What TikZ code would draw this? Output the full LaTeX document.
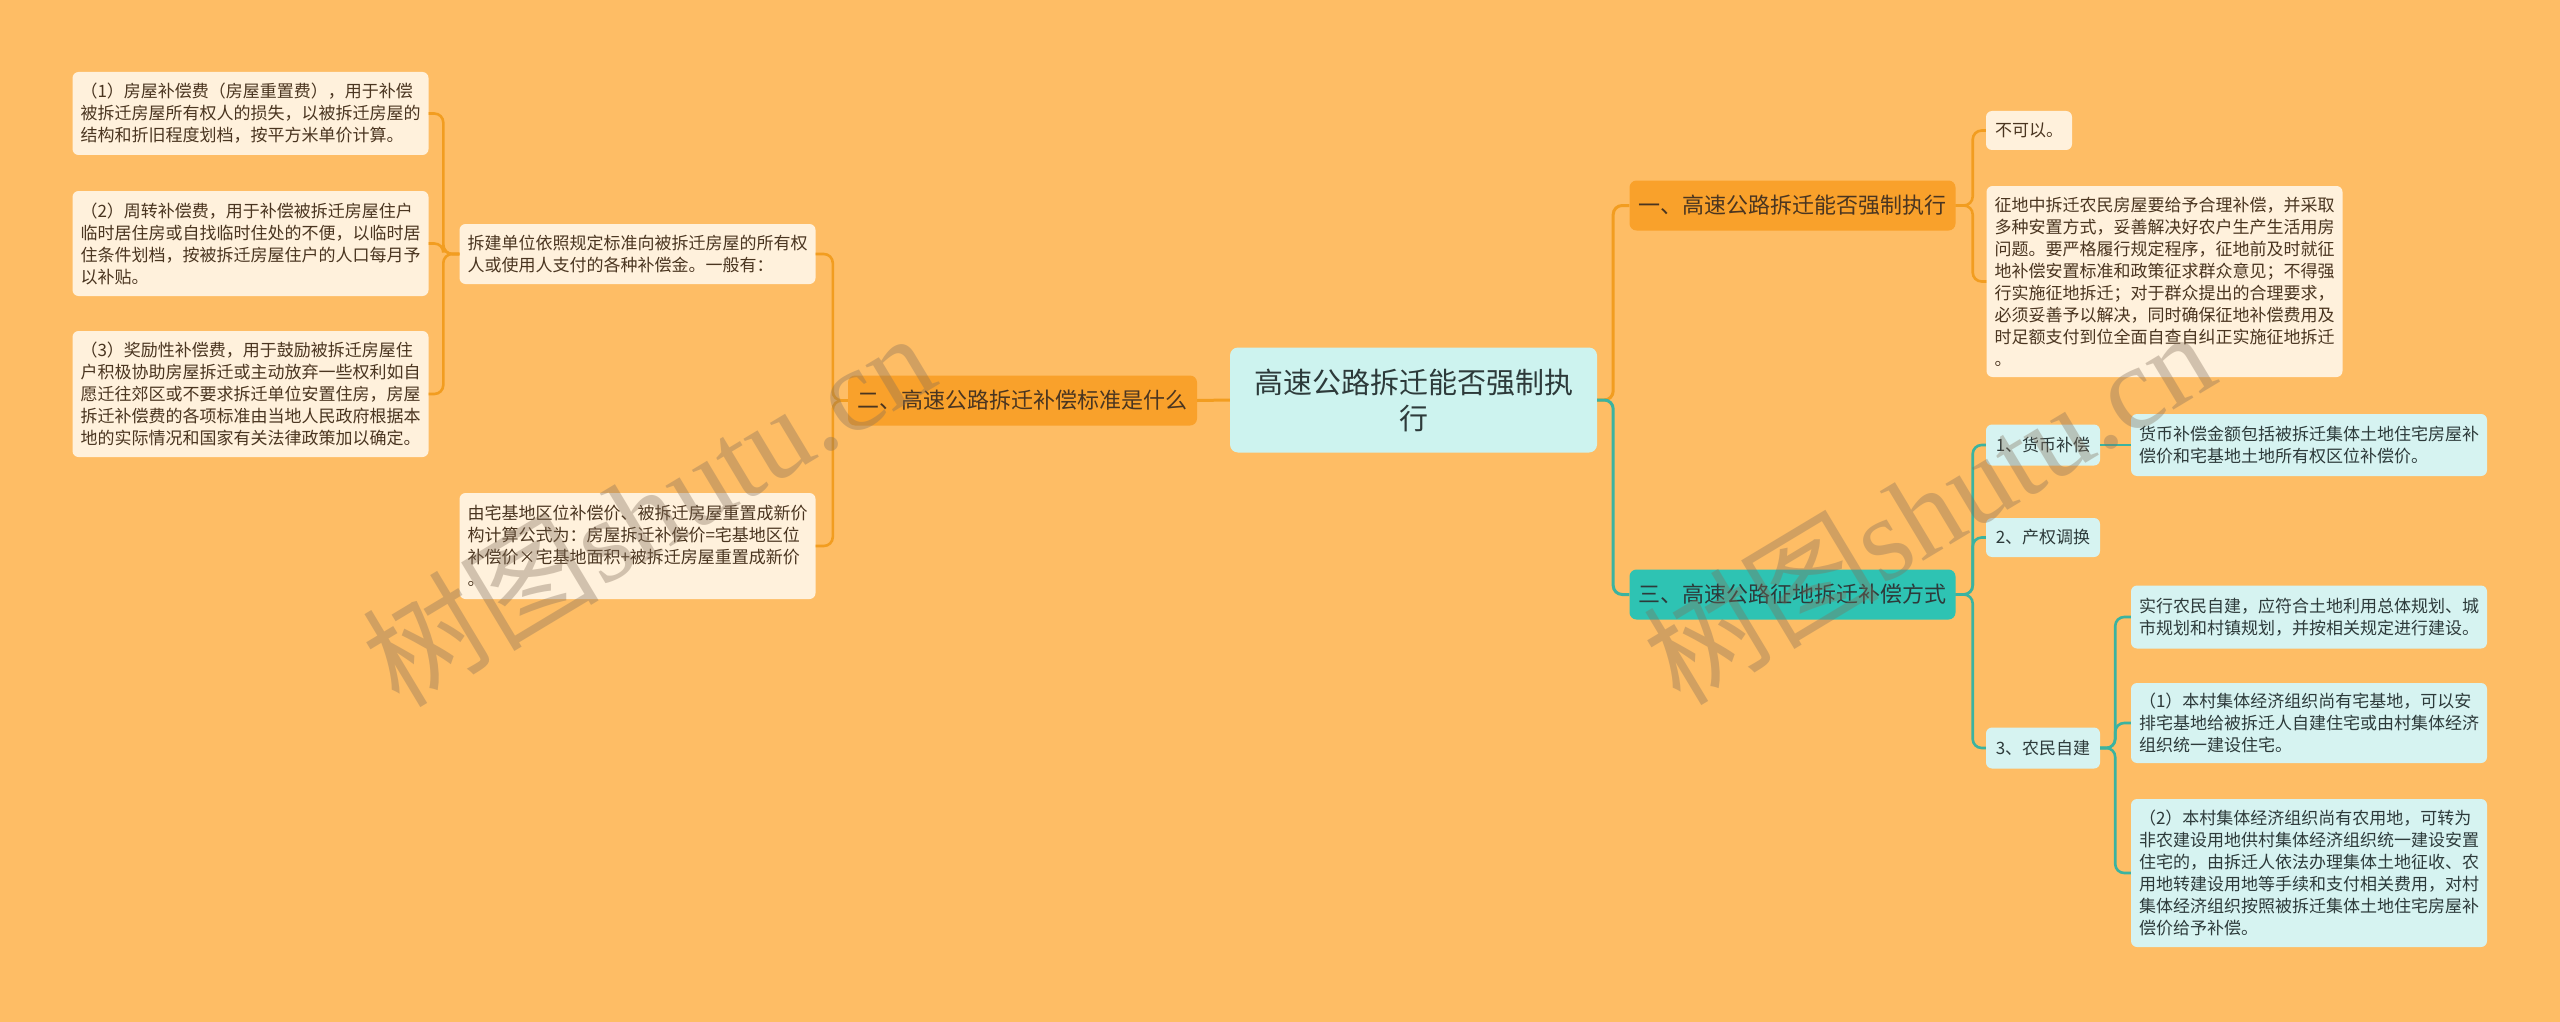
\documentclass[tikz,border=0pt]{standalone}
\usepackage{fontspec}
\setmainfont{Noto Sans CJK SC}
\newfontfamily\wmserif{Liberation Serif}
\definecolor{bgc}{HTML}{FEBD65}
\definecolor{ofill}{HTML}{F9A12B}
\definecolor{oline}{HTML}{F29D20}
\definecolor{tfill}{HTML}{2EC3B3}
\definecolor{tline}{HTML}{3BB3A0}
\definecolor{oleaf}{HTML}{FFF1DC}
\definecolor{tleaf}{HTML}{D6F3F1}
\definecolor{cfill}{HTML}{CDF3EF}
\definecolor{otext}{HTML}{4A3520}
\definecolor{ttext}{HTML}{2D3A3A}
\definecolor{wmc}{HTML}{826E5A}
\tikzset{
  leafbase/.style={rectangle, rounded corners=6pt, font=\fontsize{17}{22}\selectfont, inner ysep=0pt},
  oleafbox/.style={leafbase, fill=oleaf, text=otext, align=left, text width=340pt, inner xsep=8pt},
  tleafbox/.style={leafbase, fill=tleaf, text=ttext, align=left, text width=340pt, inner xsep=8pt},
  tshort/.style={leafbase, fill=tleaf, text=ttext, minimum width=114pt, inner xsep=4pt},
  oshort/.style={leafbase, fill=oleaf, text=otext, minimum width=86pt, inner xsep=4pt},
  branchbox/.style={rectangle, rounded corners=7pt, font=\fontsize{22}{26}\selectfont, inner xsep=8pt, inner ysep=0pt, minimum height=50pt},
  olinestyle/.style={draw=oline, line width=2.6pt, rounded corners=9pt},
  tlinestyle/.style={draw=tline, line width=2.6pt, rounded corners=9pt},
  wmstyle/.style={text=wmc, opacity=0.36, font=\fontsize{118}{118}\selectfont, inner sep=0pt}
}
\begin{document}
\begin{tikzpicture}[x=1pt,y=-1pt]
\useasboundingbox (0,0) rectangle (2560,1022);
\fill[bgc] (0,0) rectangle (2560,1022);

% center
\node[rectangle, rounded corners=8pt, fill=cfill, text=ttext, font=\fontsize{29}{36}\selectfont, align=center, minimum width=367pt, minimum height=105pt, inner sep=0pt] (center) at (1413.5,400) {高速公路拆迁能否强制执\\行};

% branches
\node[branchbox, fill=ofill, text=otext, minimum width=349pt] (n2) at (1022.5,400.5) {二、高速公路拆迁补偿标准是什么};
\node[branchbox, fill=ofill, text=otext, minimum width=326pt] (n1) at (1792.5,205.5) {一、高速公路拆迁能否强制执行};
\node[branchbox, fill=tfill, text=ttext, minimum width=326pt] (n3) at (1792.5,594.5) {三、高速公路征地拆迁补偿方式};

% left side
\node[oleafbox, minimum height=60pt] (c1) at (637.5,254) {拆建单位依照规定标准向被拆迁房屋的所有权\\人或使用人支付的各种补偿金。一般有：};
\node[oleafbox, minimum height=106pt] (c2) at (637.5,546) {由宅基地区位补偿价、被拆迁房屋重置成新价\\构计算公式为：房屋拆迁补偿价=宅基地区位\\补偿价×宅基地面积+被拆迁房屋重置成新价\\。};
\node[oleafbox, minimum height=83pt] (b1) at (250.5,113.5) {（1）房屋补偿费（房屋重置费），用于补偿\\被拆迁房屋所有权人的损失，以被拆迁房屋的\\结构和折旧程度划档，按平方米单价计算。};
\node[oleafbox, minimum height=105pt] (b2) at (250.5,243.5) {（2）周转补偿费，用于补偿被拆迁房屋住户\\临时居住房或自找临时住处的不便，以临时居\\住条件划档，按被拆迁房屋住户的人口每月予\\以补贴。};
\node[oleafbox, minimum height=126pt] (b3) at (250.5,394) {（3）奖励性补偿费，用于鼓励被拆迁房屋住\\户积极协助房屋拆迁或主动放弃一些权利如自\\愿迁往郊区或不要求拆迁单位安置住房，房屋\\拆迁补偿费的各项标准由当地人民政府根据本\\地的实际情况和国家有关法律政策加以确定。};

% right side, branch 1
\node[oshort, minimum height=39pt] (r1) at (2029,130.5) {不可以。};
\node[oleafbox, minimum height=191pt] (r2) at (2164.5,281.5) {征地中拆迁农民房屋要给予合理补偿，并采取\\多种安置方式，妥善解决好农户生产生活用房\\问题。要严格履行规定程序，征地前及时就征\\地补偿安置标准和政策征求群众意见；不得强\\行实施征地拆迁；对于群众提出的合理要求，\\必须妥善予以解决，同时确保征地补偿费用及\\时足额支付到位全面自查自纠正实施征地拆迁\\。};

% right side, branch 3
\node[tshort, minimum height=41pt] (t1) at (2043,445) {1、货币补偿};
\node[tleafbox, minimum height=62pt] (t1a) at (2309,445) {货币补偿金额包括被拆迁集体土地住宅房屋补\\偿价和宅基地土地所有权区位补偿价。};
\node[tshort, minimum height=39pt] (t2) at (2043,537.5) {2、产权调换};
\node[tshort, minimum height=41pt] (t3) at (2043,748) {3、农民自建};
\node[tleafbox, minimum height=63pt] (t3a) at (2309,617) {实行农民自建，应符合土地利用总体规划、城\\市规划和村镇规划，并按相关规定进行建设。};
\node[tleafbox, minimum height=80pt] (t3b) at (2309,723) {（1）本村集体经济组织尚有宅基地，可以安\\排宅基地给被拆迁人自建住宅或由村集体经济\\组织统一建设住宅。};
\node[tleafbox, minimum height=148pt] (t3c) at (2309,873) {（2）本村集体经济组织尚有农用地，可转为\\非农建设用地供村集体经济组织统一建设安置\\住宅的，由拆迁人依法办理集体土地征收、农\\用地转建设用地等手续和支付相关费用，对村\\集体经济组织按照被拆迁集体土地住宅房屋补\\偿价给予补偿。};

% connectors
\draw[olinestyle, line width=3pt] (center.west) -- (n2.east);
\draw[olinestyle, line width=3pt] (center.east) -- ++(16,0) |- (n1.west);
\draw[tlinestyle, line width=3pt] (center.east) -- ++(16,0) |- (n3.west);

\draw[olinestyle] (n2.west) -- ++(-15,0) |- (c1.east);
\draw[olinestyle] (n2.west) -- ++(-15,0) |- (c2.east);

\draw[olinestyle] (c1.west) -- ++(-16,0) |- (b1.east);
\draw[olinestyle] (c1.west) -- ++(-16,0) |- (b2.east);
\draw[olinestyle] (c1.west) -- ++(-16,0) |- (b3.east);

\draw[olinestyle] (n1.east) -- ++(17,0) |- (r1.west);
\draw[olinestyle] (n1.east) -- ++(17,0) |- (r2.west);

\draw[tlinestyle] (n3.east) -- ++(17,0) |- (t1.west);
\draw[tlinestyle] (n3.east) -- ++(17,0) |- (t2.west);
\draw[tlinestyle] (n3.east) -- ++(17,0) |- (t3.west);

\draw[tlinestyle] (t1.east) -- (t1a.west);

\draw[tlinestyle] (t3.east) -- ++(15,0) |- (t3a.west);
\draw[tlinestyle] (t3.east) -- ++(15,0) |- (t3b.west);
\draw[tlinestyle] (t3.east) -- ++(15,0) |- (t3c.west);

% watermarks
\node[wmstyle, rotate=31] (wm1) at (648,508) {树图{\wmserif shutu.cn}};
\node[wmstyle, rotate=31] (wm2) at (1928,506) {树图{\wmserif shutu.cn}};
\end{tikzpicture}
\end{document}
